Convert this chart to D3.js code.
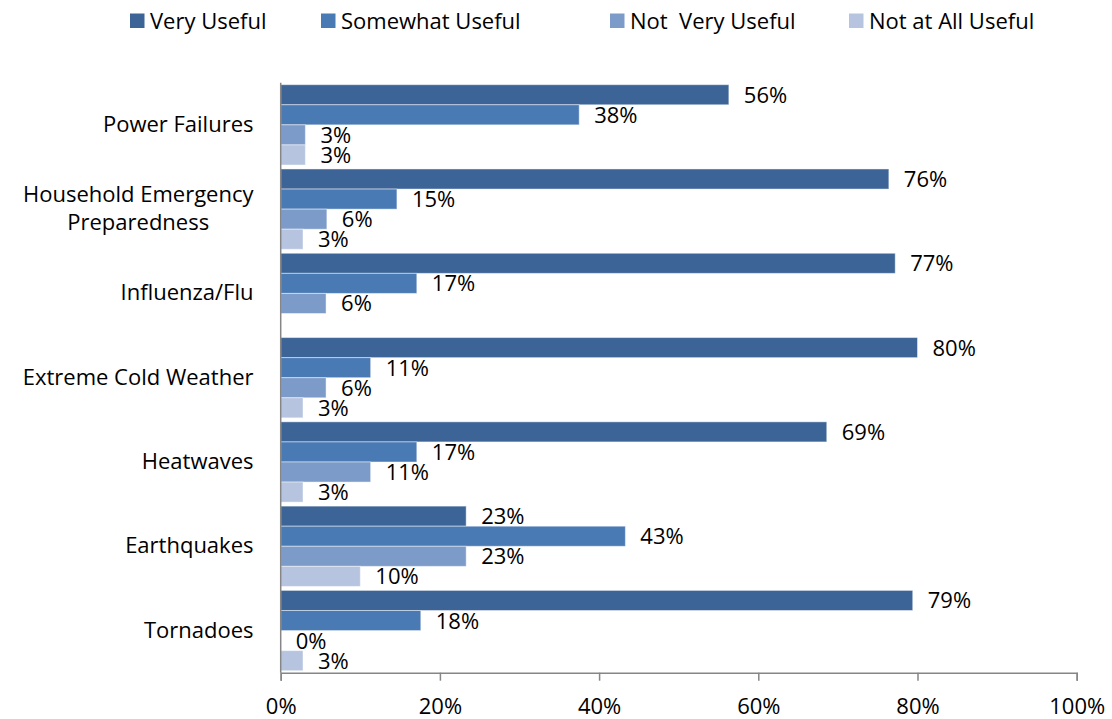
<!DOCTYPE html>
<html>
<head>
<meta charset="utf-8">
<script src="https://cdn.jsdelivr.net/npm/d3@7"></script>
<style>
  html, body { margin: 0; padding: 0; background: #fff; }
  svg { display: block; font-family: "Open Sans", Lato, sans-serif; }
  text { white-space: pre; }
</style>
</head>
<body>
<svg id="chart" width="1112" height="719"></svg>
<script>
// ---- Data ----
const categories = [
  ["Power Failures"],
  ["Household Emergency", "Preparedness"],
  ["Influenza/Flu"],
  ["Extreme Cold Weather"],
  ["Heatwaves"],
  ["Earthquakes"],
  ["Tornadoes"]
];
const seriesNames = ["Very Useful", "Somewhat Useful", "Not  Very Useful", "Not at All Useful"];
const veryUseful     = [56.3, 76.4, 77.2, 80.0, 68.6, 23.3, 79.4];
const somewhatUseful = [37.5, 14.6, 17.1, 11.3, 17.1, 43.3, 17.6];
const notVeryUseful  = [3.1, 5.8, 5.7, 5.7, 11.3, 23.3, 0];
const notAtAllUseful = [3.1, 2.8, null, 2.8, 2.8, 10.0, 2.8];
const xTicks = [0, 20, 40, 60, 80, 100];
const colors = ["#3C6496", "#4A7AB4", "#7D9BC9", "#B6C4DF"];

const seriesValues = [veryUseful, somewhatUseful, notVeryUseful, notAtAllUseful];
const catKeys = categories.map(c => c.join(" "));

// ---- Layout ----
const svg = d3.select("#chart");
const fontSize = 22;
const x = d3.scaleLinear().domain([0, 100]).range([280.7, 1076.7]);
const y = d3.scaleBand().domain(catKeys).range([82.7, 672.7]).padding(0);
const inner = d3.scaleBand().domain(seriesNames).range([2, y.bandwidth() - 2]).padding(0);

// bars
const rows = [];
catKeys.forEach((c, ci) => {
  seriesNames.forEach((s, si) => {
    rows.push({ cat: c, series: s, si, value: seriesValues[si][ci] });
  });
});

const g = svg.append("g");
g.selectAll("rect.bar")
  .data(rows.filter(d => d.value !== null))
  .join("rect")
  .attr("class", "bar")
  .attr("x", x(0))
  .attr("y", d => y(d.cat) + inner(d.series))
  .attr("width", d => x(d.value) - x(0))
  .attr("height", inner.bandwidth())
  .attr("fill", d => colors[d.si])
  .attr("stroke", d => d.value > 0 ? "rgba(255,255,255,0.45)" : "none")
  .attr("stroke-width", 1);

g.selectAll("text.lbl")
  .data(rows.filter(d => d.value !== null))
  .join("text")
  .attr("class", "lbl")
  .attr("x", d => x(d.value) + 15)
  .attr("y", d => y(d.cat) + inner(d.series) + inner.bandwidth() / 2 + 8)
  .attr("font-size", fontSize)
  .attr("fill", "#000")
  .text(d => Math.round(d.value) + "%");

// x axis
const xAxis = d3.axisBottom(x)
  .tickValues(xTicks)
  .tickFormat(d => d + "%")
  .tickSize(8)
  .tickPadding(18);
const ax = svg.append("g").attr("transform", `translate(0,${672.7})`).call(xAxis);
ax.select(".domain").attr("stroke", "#868686").attr("stroke-width", 1.5);
ax.selectAll(".tick line").attr("stroke", "#868686").attr("stroke-width", 1.5);
ax.selectAll(".tick text").attr("font-size", fontSize).attr("font-family", "Open Sans").attr("fill", "#000");

// y axis line
svg.append("line")
  .attr("x1", x(0)).attr("x2", x(0))
  .attr("y1", 82.7).attr("y2", 672.7)
  .attr("stroke", "#868686").attr("stroke-width", 1.5);

// category labels
const labelRight = 253.5;
const lineH = 28.3;
categories.forEach((lines, ci) => {
  const cy = y(catKeys[ci]) + y.bandwidth() / 2;
  const t = svg.append("text")
    .attr("font-size", fontSize)
    .attr("fill", "#000")
    .attr("text-anchor", "middle");
  lines.forEach((ln, li) => {
    t.append("tspan").attr("x", 0)
      .attr("y", cy + (li - (lines.length - 1) / 2) * lineH + 7)
      .text(ln);
  });
  const w = d3.max(t.selectAll("tspan").nodes(), n => n.getComputedTextLength());
  t.selectAll("tspan").attr("x", labelRight - w / 2);
});

// legend
const legendItems = [
  { name: seriesNames[0], sx: 130 },
  { name: seriesNames[1], sx: 321 },
  { name: seriesNames[2], sx: 610 },
  { name: seriesNames[3], sx: 849 }
];
const lg = svg.append("g");
legendItems.forEach((it, i) => {
  lg.append("rect").attr("x", it.sx).attr("y", 13.5).attr("width", 14.5).attr("height", 14.5).attr("fill", colors[i]);
  lg.append("text").attr("x", it.sx + 20).attr("y", 28.5)
    .attr("font-size", fontSize).attr("fill", "#000").text(it.name);
});
</script>
</body>
</html>
